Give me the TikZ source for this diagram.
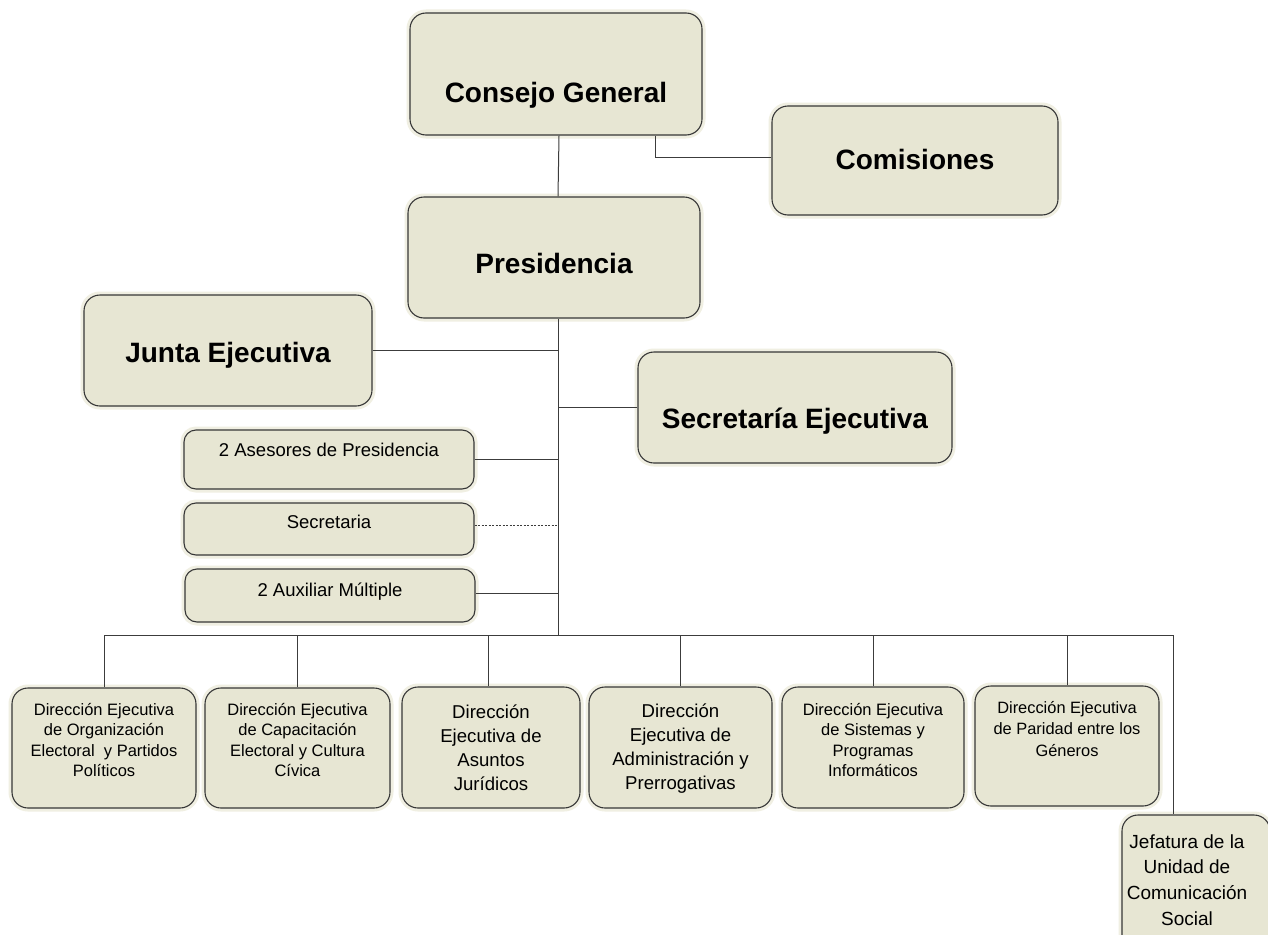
\documentclass[tikz,border=0pt]{standalone}
\usepackage{fontspec}
\setmainfont{Liberation Sans}
\definecolor{boxfill}{RGB}{231,230,211}
\definecolor{glow}{RGB}{240,239,226}
\definecolor{boxline}{RGB}{55,55,55}
\definecolor{linec}{RGB}{60,60,60}
\newcommand\bt[4]{\parbox[c][#2pt][t]{#1pt}{\centering\rule{0pt}{#3pt}#4}}
\newcommand\ftitle{\fontsize{28}{33}\selectfont\bfseries}
\newcommand\fmid{\fontsize{18.5}{22}\selectfont}
\newcommand\fsmall{\fontsize{16.5}{20.6}\selectfont}
\newcommand\flarge{\fontsize{18.6}{24.2}\selectfont}
\tikzset{
  box/.style={draw=boxline, line width=1.1pt, fill=boxfill, rounded corners=16pt,
    inner sep=0pt, preaction={draw=glow, line width=7pt}},
  sbox/.style={box, rounded corners=12pt},
  conn/.style={draw=linec, line width=1pt},
  dotconn/.style={draw=linec, line width=0.8pt, dash pattern=on 2pt off 1.5pt},
}
\begin{document}
\begin{tikzpicture}[x=1pt,y=-1pt]
\useasboundingbox (0,0) rectangle (1268,934);
\fill[white] (0,0) rectangle (1268,934);
\clip (0,0) rectangle (1268,934);

% top level
\node[box] (cg) at (556,74) {\bt{292}{122}{89}{\ftitle Consejo General}};
\node[box] (com) at (915,160.5) {\bt{286}{109}{63}{\ftitle Comisiones}};
\node[box] (pres) at (554,257.5) {\bt{292}{121}{76}{\ftitle Presidencia}};
\node[box] (junta) at (228,350.5) {\bt{288}{111}{67}{\ftitle Junta Ejecutiva}};
\node[box] (sec) at (795,407.5) {\bt{314}{111}{76}{\ftitle Secretaría Ejecutiva}};

% staff
\node[sbox] (ases) at (329,459.5) {\bt{290}{59}{26}{\fmid 2 Asesores de Presidencia}};
\node[sbox] (secr) at (329,529) {\bt{290}{52}{25}{\fmid Secretaria}};
\node[sbox] (aux) at (330,595.5) {\bt{290}{53}{27}{\fmid 2 Auxiliar Múltiple}};

% directorates
\node[box] (d1) at (104,748) {\bt{184}{120}{27}{\fsmall Dirección Ejecutiva\\de Organización\\Electoral\ \ y Partidos\\Políticos}};
\node[box] (d2) at (297.5,748) {\bt{185}{120}{27}{\fsmall Dirección Ejecutiva\\de Capacitación\\Electoral y Cultura\\Cívica}};
\node[box] (d3) at (491,747.5) {\bt{178}{121}{31}{\flarge Dirección\\Ejecutiva de\\Asuntos\\Jurídicos}};
\node[box] (d4) at (680.5,747.5) {\bt{183}{121}{30}{\flarge Dirección\\Ejecutiva de\\Administración y\\Prerrogativas}};
\node[box] (d5) at (873,747.5) {\bt{182}{121}{28}{\fsmall Dirección Ejecutiva\\de Sistemas y\\Programas\\Informáticos}};
\node[box] (d6) at (1067,746) {\bt{184}{120}{27}{\fontsize{16.4}{21.8}\selectfont Dirección Ejecutiva\\de Paridad entre los\\Géneros}};
\node[box] (jef) at (1196,887.5) {\parbox[c][145pt][t]{148pt}{\centering\rightskip=18pt plus 1fil\relax\fontsize{19}{25.7}\selectfont\rule{0pt}{33pt}Jefatura de la\\Unidad de\\Comunicación\\Social}};

% connectors
\coordinate (bus) at (558,635);
\coordinate (busL) at (104,635);
\coordinate (busR) at (1173,635);
\draw[conn] ([xshift=3pt]cg.south) -- ([xshift=4pt]pres.north);
\draw[conn] ([xshift=99pt]cg.south) |- ([yshift=3.5pt]com.west);
\draw[conn] ([xshift=4pt]pres.south) -- (bus);
\draw[conn] (junta.east) -- (junta.east -| bus);
\draw[conn] (sec.west) -- (sec.west -| bus);
\draw[conn] (ases.east) -- (ases.east -| bus);
\draw[dotconn] ([yshift=4pt]secr.east) -- ([yshift=4pt]secr.east -| bus);
\draw[conn] ([yshift=2.5pt]aux.east) -- ([yshift=2.5pt]aux.east -| bus);
\draw[conn] (busL) -- (busR) -- (busR |- jef.north);
\draw[conn] (d1.north) -- (busL);
\draw[conn] (d2.north) -- (d2.north |- bus);
\draw[conn] ([xshift=-3pt]d3.north) -- ([xshift=-3pt]d3.north |- bus);
\draw[conn] (d4.north) -- (d4.north |- bus);
\draw[conn] (d5.north) -- (d5.north |- bus);
\draw[conn] (d6.north) -- (d6.north |- bus);
\end{tikzpicture}
\end{document}
